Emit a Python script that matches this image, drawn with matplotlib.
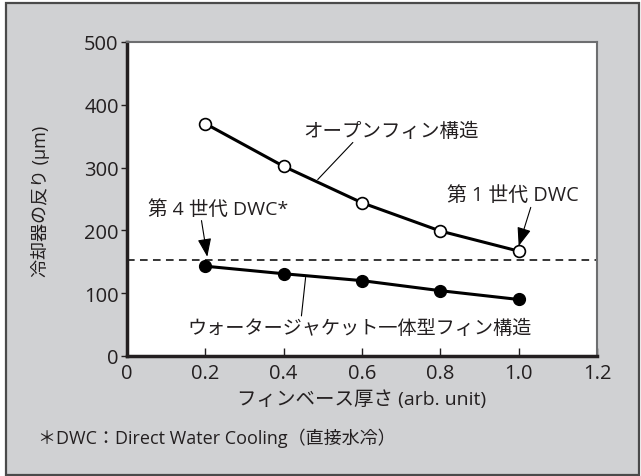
import matplotlib
matplotlib.use("Agg")
import matplotlib.pyplot as plt
from matplotlib.patches import Rectangle

FAM = ['Open Sans', 'Noto Sans CJK JP', 'DejaVu Sans']
plt.rcParams['font.family'] = FAM

thickness = [0.2, 0.4, 0.6, 0.8, 1.0]
open_fin = [370, 302, 244, 199, 167]
water_jacket = [143, 131, 120, 104, 90]
reference_level = 153
xticks = [0, 0.2, 0.4, 0.6, 0.8, 1.0, 1.2]
xticklabels = ['0', '0.2', '0.4', '0.6', '0.8', '1.0', '1.2']
yticks = [0, 100, 200, 300, 400, 500]

W, H = 641, 477
fig = plt.figure(figsize=(W / 100, H / 100), dpi=100, facecolor='white')
bg = Rectangle((6 / W, 1 / H), 633 / W, 472 / H, transform=fig.transFigure,
               facecolor='#d0d1d3', edgecolor='#4a4a4a', linewidth=1.6, zorder=-10)
fig.patches.append(bg)

ax = fig.add_axes([127 / W, (H - 357) / H, (597 - 127) / W, (357 - 43) / H])
ax.set_facecolor('white')
ax.set_xlim(0, 1.2)
ax.set_ylim(0, 500)

ax.plot(thickness, open_fin, color='black', lw=2.2, marker='o', ms=8.5,
        mfc='white', mec='black', mew=1.2, zorder=3)
ax.plot(thickness, water_jacket, color='black', lw=2.2, marker='o', ms=8.5,
        mfc='black', mec='black', zorder=3)
ax.axhline(reference_level, color='black', lw=1.1, ls=(0, (5, 3.5)), zorder=2)

tc = '#231f20'
ax.set_xticks(xticks)
ax.set_xticklabels(xticklabels)
ax.set_yticks(yticks)
ax.tick_params(axis='x', direction='in', length=6, width=1, labelsize=14.5, colors=tc, pad=5)
ax.tick_params(axis='y', direction='out', length=4, width=1, labelsize=14.5, colors=tc, pad=2)
for s in ['left', 'bottom']:
    ax.spines[s].set_linewidth(2.5)
    ax.spines[s].set_color(tc)
for s in ['top', 'right']:
    ax.spines[s].set_linewidth(1.5)
    ax.spines[s].set_color('#6d6e70')

ax.set_xlabel('フィンベース厚さ (arb. unit)', fontsize=14, color=tc)
ax.xaxis.label.set_va('center')
ax.xaxis.set_label_coords(0.5, -0.137)
ax.set_ylabel('冷却器の反り (μm)', fontsize=13, color=tc)
ax.yaxis.label.set_va('center')
ax.yaxis.set_label_coords(-0.185, 0.497)

ax.annotate('オープンフィン構造', xy=(0.487, 281), xytext=(0.673, 359),
            fontsize=14, color=tc, ha='center', va='center',
            arrowprops=dict(arrowstyle='-', color='black', lw=0.8,
                            shrinkA=0, shrinkB=0, relpos=(0.3, 0)))
ax.annotate('ウォータージャケット一体型フィン構造', xy=(0.456, 125), xytext=(0.594, 45),
            fontsize=13.8, color=tc, ha='center', va='center',
            arrowprops=dict(arrowstyle='-', color='black', lw=0.8,
                            shrinkA=0, shrinkB=0, relpos=(0.33, 1)))
ax.annotate('第 4 世代 DWC*', xy=(0.205, 158), xytext=(0.232, 235),
            fontsize=14, color=tc, ha='center', va='center',
            arrowprops=dict(arrowstyle='-|>,head_length=0.8,head_width=0.3', color='black',
                            lw=0.8, shrinkA=0, shrinkB=0, relpos=(0.38, 0)))
ax.annotate('第 1 世代 DWC', xy=(1.0, 175), xytext=(0.986, 257),
            fontsize=14.3, color=tc, ha='center', va='center',
            arrowprops=dict(arrowstyle='-|>,head_length=0.8,head_width=0.3', color='black',
                            lw=0.8, shrinkA=0, shrinkB=0, relpos=(0.64, 0)))

fig.text(38 / W, 1 - 438 / H, '＊DWC：Direct Water Cooling（直接水冷）', fontsize=13,
         color=tc, ha='left', va='center')

fig.savefig('out.png', dpi=100, facecolor=fig.get_facecolor())
